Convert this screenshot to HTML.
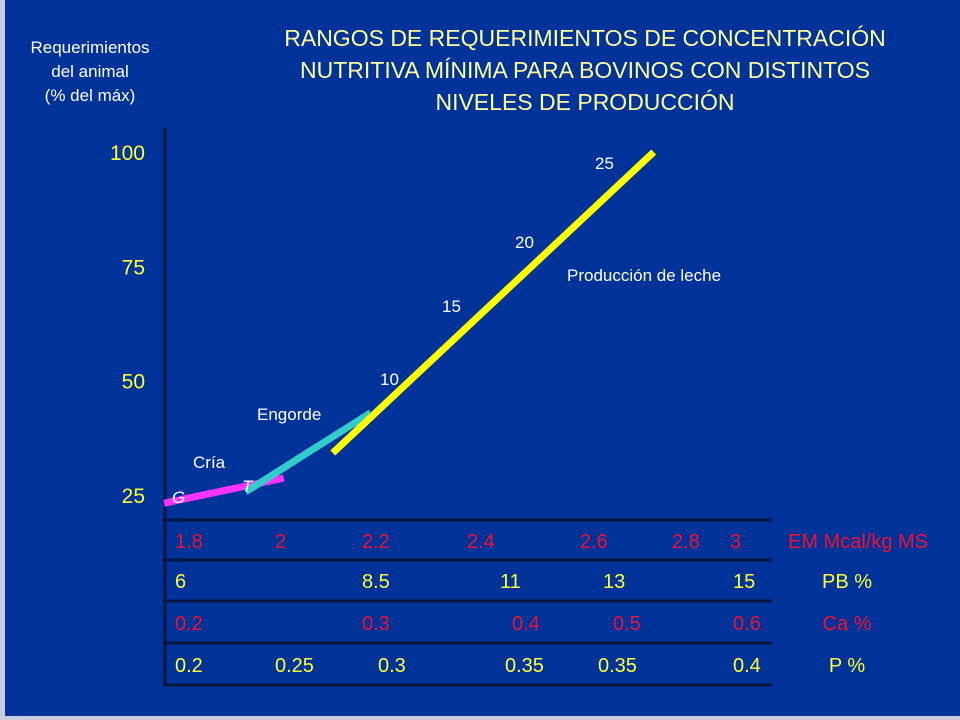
<!DOCTYPE html>
<html><head><meta charset="utf-8"><style>
body{margin:0;width:960px;height:720px;overflow:hidden;background:#c8cde0;font-family:"Liberation Sans",sans-serif}
#bg{position:absolute;left:5px;top:0;width:955px;height:716px;background:#003399}
.t{position:absolute;white-space:nowrap}
</style></head><body>
<div id="bg"></div>
<svg width="960" height="720" style="position:absolute;left:0;top:0">
<g id="titles" fill="#ffff99" font-size="23" text-anchor="middle" font-family="Liberation Sans, sans-serif">
<text x="585" y="46">RANGOS DE REQUERIMIENTOS DE CONCENTRACIÓN</text>
<text x="585" y="78">NUTRITIVA MÍNIMA PARA BOVINOS CON DISTINTOS</text>
<text x="585" y="110">NIVELES DE PRODUCCIÓN</text>
</g>
<g fill="#ffffff" font-size="17" text-anchor="middle">
<text x="90" y="53">Requerimientos</text>
<text x="90" y="77">del animal</text>
<text x="90" y="101">(% del máx)</text>
</g>
<line x1="165" y1="128" x2="165" y2="686" stroke="#0a1440" stroke-width="3"/>
<g id="yticks"></g>
<g id="rules"></g>
<g id="series"></g>
<g id="labels" fill="#ffffff" font-size="17"></g>
<g id="table" font-size="20"></g>
</svg>
<script>
const NS='http://www.w3.org/2000/svg';
const yTicks=[100,75,50,25];
const magenta=[[1.78,23.2],[2.0,28.7]];
const cyan=[[1.93,25.7],[2.16,43]];
const yellow=[[2.09,34.2],[2.68,100]];
const yellowLabels=['10','15','20','25'];
const yellowLabelReq=[50.4,66.3,80.3,97.6];
const emLabels=['1.8','2','2.2','2.4','2.6','2.8','3'];
const pbLabels=['6','8.5','11','13','15'];
const caLabels=['0.2','0.3','0.4','0.5','0.6'];
const pLabels=['0.2','0.25','0.3','0.35','0.35','0.4'];
const X=e=>175+(e-1.8)*544;
const Y=r=>495-(r-25)*4.573;
function mk(tag,attrs,parent){const el=document.createElementNS(NS,tag);for(const k in attrs)el.setAttribute(k,attrs[k]);document.getElementById(parent).appendChild(el);return el;}
yTicks.forEach(v=>{const t=mk('text',{x:145,y:Y(v)+8,fill:'#ffff33','font-size':21,'text-anchor':'end'},'yticks');t.textContent=v;

});
[[magenta,'#ff33ff','line-cria'],[cyan,'#33cccc','line-engorde'],[yellow,'#ffff00','line-leche']].forEach(([d,c,n])=>{
const l=mk('line',{x1:X(d[0][0]),y1:Y(d[0][1]),x2:X(d[1][0]),y2:Y(d[1][1]),stroke:c,'stroke-width':7},'series');

});
[520,560,601,643,685].forEach((y,i)=>{const l=mk('line',{x1:163,y1:y,x2:772,y2:y,stroke:'#0a1440','stroke-width':3},'rules');

});
const lx=[380,442,515,595];
yellowLabels.forEach((s,i)=>{const t=mk('text',{x:lx[i],y:Y(yellowLabelReq[i])+6},'labels');t.textContent=s;

});
[['Producción de leche',567,281],['Engorde',257,420],['Cría',193,468],['G',172,503],['T',242,492]].forEach(([s,x,y])=>{
const t=mk('text',{x:x,y:y,'font-style':(s.length<2?'italic':'normal')},'labels');t.textContent=s;

});
function row(arr,xs,y,col,name,label,lxp){arr.forEach((s,i)=>{const t=mk('text',{x:xs[i],y:y,fill:col},'table');t.textContent=s;

});
const t=mk('text',{x:lxp,y:y,fill:col,'text-anchor':'middle'},'table');t.textContent=label;

}
row(emLabels,[175,275,362,467,580,672,730],548,'#ee1133','em','EM Mcal/kg MS',858);
row(pbLabels,[175,362,500,603,733],588,'#ffff33','pb','PB %',847);
row(caLabels,[175,362,512,613,733],630,'#ee1133','ca','Ca %',847);
row(pLabels,[175,275,378,505,598,733],672,'#ffff33','p','P %',847);
</script>
</body></html>
